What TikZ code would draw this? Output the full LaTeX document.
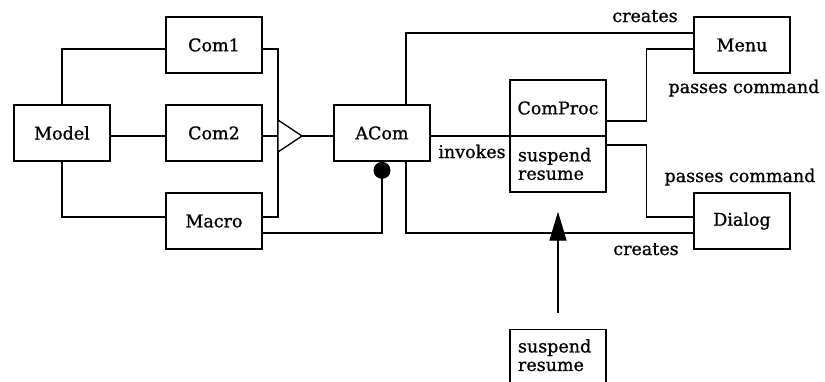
\documentclass[tikz,border=0pt]{standalone}
\usepackage{fontspec}
\setmainfont{DejaVu Serif}[FakeBold=0.9]
\usetikzlibrary{arrows.meta}
\newcommand\lblfont{\fontsize{17.5}{18.5}\selectfont}
\tikzset{
  box/.style={draw, line width=1.3pt, minimum width=96pt, minimum height=56pt,
    inner sep=0pt, font=\lblfont},
  lab/.style={inner sep=0pt, anchor=base, font=\lblfont},
  wire/.style={line width=1.3pt},
}
\begin{document}
\begin{tikzpicture}[x=1pt, y=-1pt]
\clip (0,0) rectangle (825,381);
\fill[white] (0,0) rectangle (825,381);

% classes
\node[box] (Model) at (62,133) {Model};
\node[box] (Com1)  at (214,45)  {Com1};
\node[box] (Com2)  at (214,133) {Com2};
\node[box] (Macro) at (214,221) {Macro};
\node[box] (ACom)  at (382,133) {ACom};
\node[box] (Menu)  at (742,45)  {Menu};
\node[box] (Dialog) at (742,221) {Dialog};

% ComProc with its operation compartment
\node[box] (cpTop) at (558,108) {ComProc};
\node[box, text width=80pt, inner xsep=8pt, align=left]
  (cpBot) at (558,164) {suspend\\resume};

% free-standing operations box
\node[box, anchor=north, text width=80pt, inner xsep=8pt,
  inner ysep=9.5pt, text depth=30pt, align=left, minimum height=0pt]
  (ops) at (558,329) {suspend\\resume};

% Model to its commands
\draw[wire] (Model.north) |- ([yshift=-4pt]Com1.west);
\draw[wire] ([yshift=-3pt]Model.east) -- ([yshift=-3pt]Com2.west);
\draw[wire] (Model.south) |- ([yshift=4pt]Macro.west);

% generalization into ACom
\coordinate (tb) at (278,136);
\coordinate (tip) at (302,136);
\draw[wire] ([yshift=-4pt]Com1.east) -| (tb) |- ([yshift=4pt]Macro.east);
\draw[wire] ([yshift=-3pt]Com2.east) -- (tb);
\draw[wire, fill=white] ([yshift=16pt]tb) -- (tip) -- ([yshift=-16pt]tb) -- cycle;
\draw[wire] (tip) -- ([yshift=-3pt]ACom.west);

% aggregation from Macro
\node[circle, fill, inner sep=0pt, minimum size=17pt, anchor=north] (ball) at (ACom.south) {};
\draw[wire] (ball.center) |- ([yshift=-12pt]Macro.east);

% creates
\draw[wire] ([xshift=24pt]ACom.north) |- ([yshift=12pt]Menu.west);
\draw[wire] ([xshift=24pt]ACom.south) |- ([yshift=-12pt]Dialog.west);
\node[lab] (cr1) at (645,22) {creates};
\node[lab] (cr2) at (646,255) {creates};

% invokes
\draw[wire] ([yshift=-3pt]ACom.east) -- ([yshift=-3pt]ACom.east -| cpTop.west);
\node[lab] (inv) at (472,158) {invokes};

% passes command
\draw[wire] ([yshift=-13pt]cpTop.east) -- ++(40,0) |- ([yshift=-4pt]Menu.west);
\draw[wire] ([yshift=19pt]cpBot.east) -- ++(40,0) |- ([yshift=4pt]Dialog.west);
\node[lab] (pc1) at (744,93) {passes command};
\node[lab] (pc2) at (740,182) {passes command};

% dependency arrow
\draw[wire, -{Triangle[length=29pt,width=17pt]}, shorten <=16pt, shorten >=19pt]
  (ops.north) -- (cpBot.south);
\end{tikzpicture}
\end{document}
